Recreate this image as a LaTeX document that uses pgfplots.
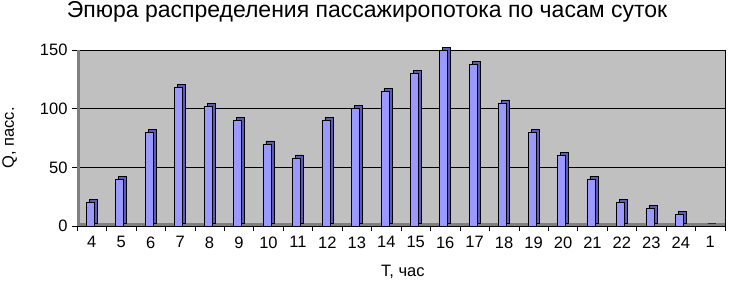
\documentclass[border=0pt]{standalone}
\usepackage{pgfplots}
\pgfplotsset{compat=1.18}
\usepackage{fontspec}
\setmainfont{Liberation Sans}
\definecolor{barfront}{HTML}{9999FF}
\definecolor{barside}{HTML}{5C5CB8}
\definecolor{wall}{HTML}{C0C0C0}
\definecolor{darkwall}{HTML}{808080}
\begin{document}
\begin{tikzpicture}
\useasboundingbox (-77pt,-64pt) rectangle (653pt,226pt);
\begin{axis}[
  at={(0,0)}, anchor=south west,
  scale only axis, width=648pt, height=176pt,
  xmin=-0.5, xmax=21.5, ymin=0, ymax=150,
  ytick={0,50,100,150},
  xtick={0,...,21},
  xticklabels={4,5,6,7,8,9,10,11,12,13,14,15,16,17,18,19,20,21,22,23,24,1},
  minor xtick={-0.5,0.5,...,21.5},
  major x tick style={draw=none},
  tick align=outside,
  tick style={black, line width=0.6pt},
  major tick length=5pt, minor tick length=5pt,
  xtick pos=bottom, ytick pos=left,
  ymajorgrids, grid style={black, line width=0.8pt},
  axis line style={black, line width=0.6pt},
  axis background/.style={fill=wall},
  ticklabel style={font=\fontsize{16.5}{18}\selectfont},
  /pgf/number format/assume math mode=true,
  xticklabel style={yshift=-2pt},
  yticklabel style={xshift=-1pt},
  title={Эпюра распределения пассажиропотока по часам суток},
  title style={font=\fontsize{23}{26}\selectfont, at={(axis description cs:0.4475,1.18)}, anchor=center},
  xlabel={T, час},
  xlabel style={font=\fontsize{16.5}{18}\selectfont, at={(axis description cs:0.503,-0.261)}, anchor=center},
  ylabel={Q, пасс.},
  ylabel style={font=\fontsize{16.5}{18}\selectfont, at={(axis description cs:-0.104,0.5)}, anchor=center},
  ybar, bar width=8pt,
  clip=false,
]
\fill[darkwall] (rel axis cs:0,0) rectangle ([xshift=3pt]rel axis cs:0,1);
\fill[darkwall] (rel axis cs:0,0) rectangle ([yshift=3pt]rel axis cs:1,0);
\addplot[fill=barside, draw=black, line width=0.5pt, xshift=3pt, yshift=3pt, bar shift=-1.5pt] coordinates {
(0,20) (1,40) (2,80) (3,118) (4,102) (5,90) (6,70) (7,58) (8,90) (9,100) (10,115)
(11,130) (12,150) (13,138) (14,105) (15,80) (16,60) (17,40) (18,20) (19,15) (20,10) (21,0)};
\addplot[fill=barfront, draw=black, line width=0.5pt, bar shift=-1.5pt] coordinates {
(0,20) (1,40) (2,80) (3,118) (4,102) (5,90) (6,70) (7,58) (8,90) (9,100) (10,115)
(11,130) (12,150) (13,138) (14,105) (15,80) (16,60) (17,40) (18,20) (19,15) (20,10) (21,0)};
\end{axis}
\end{tikzpicture}
\end{document}
